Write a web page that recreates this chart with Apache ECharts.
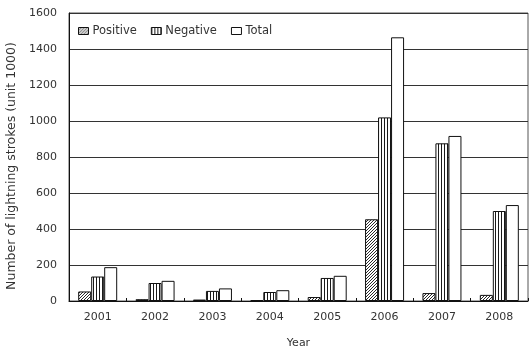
<!DOCTYPE html>
<html>
<head>
<meta charset="utf-8">
<script src="https://cdn.jsdelivr.net/npm/echarts@6/dist/echarts.min.js"></script>
<style>
  html, body { margin: 0; padding: 0; background: #fff; }
  #chart { width: 530px; height: 351px; }
</style>
</head>
<body>
<div id="chart"></div>
<script>
// Annual lightning strokes (unit: 1000)
var years = ['2001', '2002', '2003', '2004', '2005', '2006', '2007', '2008'];
var positive = [53, 10, 8, 5, 22, 454, 44, 34];
var negative = [136, 100, 56, 50, 128, 1020, 876, 500];
var total = [188, 112, 70, 60, 140, 1465, 917, 533];
var yTicks = [0, 200, 400, 600, 800, 1000, 1200, 1400, 1600];

// Diagonal hatching fill
function hatchPattern() {
  var n = 3;
  var c = document.createElement('canvas');
  c.width = n; c.height = n;
  var g = c.getContext('2d');
  g.fillStyle = '#ffffff';
  g.fillRect(0, 0, n, n);
  g.fillStyle = '#2a2a2a';
  for (var i = 0; i < n; i++) {
    g.fillRect(n - 1 - i, i, 1, 1);
  }
  return c;
}

// Vertical stripe fill
function stripePattern() {
  var c = document.createElement('canvas');
  c.width = 3; c.height = 3;
  var g = c.getContext('2d');
  g.fillStyle = '#ffffff';
  g.fillRect(0, 0, 3, 3);
  g.fillStyle = '#1a1a1a';
  g.fillRect(0, 0, 1, 3);
  return c;
}

var hatch = { image: hatchPattern(), repeat: 'repeat' };
var stripes = { image: stripePattern(), repeat: 'repeat' };

var font = 'DejaVu Sans, sans-serif';
var textColor = '#333333';
var chart = echarts.init(document.getElementById('chart'), null, { renderer: 'canvas' });

function barSeries(name, data, fill) {
  return {
    name: name,
    type: 'bar',
    data: data,
    barWidth: 13,
    barGap: '0%',
    itemStyle: { color: fill, borderColor: '#111', borderWidth: 1 },
    emphasis: { disabled: true }
  };
}

chart.setOption({
  animation: false,
  textStyle: { fontFamily: font },
  grid: {
    left: 69, right: 2, top: 13, bottom: 50,
    containLabel: false,
    outerBoundsMode: 'none',
    show: true, borderColor: '#555', borderWidth: 1, backgroundColor: 'transparent'
  },
  legend: {
    left: 73, top: 20,
    icon: 'rect',
    itemWidth: 10, itemHeight: 7, itemGap: 14,
    textStyle: { fontFamily: font, fontSize: 11.5, color: textColor, padding: [0, 0, 0, -1] },
    data: [
      { name: 'Positive', itemStyle: { color: hatch, borderColor: '#111', borderWidth: 1 } },
      { name: 'Negative', itemStyle: { color: stripes, borderColor: '#111', borderWidth: 1 } },
      { name: 'Total', itemStyle: { color: '#fff', borderColor: '#111', borderWidth: 1 } }
    ]
  },
  xAxis: {
    type: 'category',
    data: years,
    name: 'Year',
    nameLocation: 'middle',
    nameGap: 37,
    nameTextStyle: { fontFamily: font, fontSize: 11, color: textColor },
    axisLine: { lineStyle: { color: '#111', width: 1 } },
    axisTick: { show: true, inside: true, length: 3, lineStyle: { color: '#111' } },
    axisLabel: { fontFamily: font, fontSize: 11, color: textColor, margin: 11 }
  },
  yAxis: {
    type: 'value',
    min: yTicks[0],
    max: yTicks[yTicks.length - 1],
    interval: 200,
    name: 'Number of lightning strokes (unit 1000)',
    nameLocation: 'middle',
    nameGap: 48,
    nameTextStyle: { fontFamily: font, fontSize: 12.5, color: textColor, padding: [0, 18, 0, 0] },
    axisLine: { show: true, lineStyle: { color: '#111', width: 1 } },
    axisTick: { show: false },
    axisLabel: {
      fontFamily: font, fontSize: 11, color: textColor, margin: 12,
      formatter: function (v) { return String(v); }
    },
    splitLine: { show: true, lineStyle: { color: '#333', width: 1 } }
  },
  series: [
    barSeries('Positive', positive, hatch),
    barSeries('Negative', negative, stripes),
    barSeries('Total', total, '#ffffff')
  ]
});
</script>
</body>
</html>
